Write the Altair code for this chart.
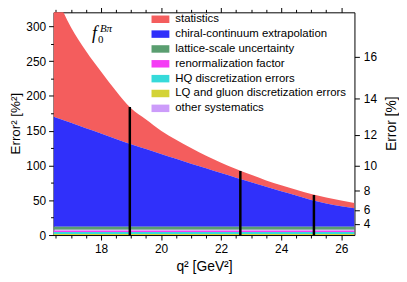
import altair as alt
import pandas as pd

# ---- data ----
q2 = [16.42, 17.0, 17.5, 18.0, 18.5, 19.0, 19.5, 20.0, 20.5, 21.0, 21.5,
      22.0, 22.5, 23.0, 23.5, 24.0, 24.5, 25.0, 25.5, 26.0, 26.44]

stat_vals = [182, 137, 111, 89, 69, 51.5, 42.5, 33.5, 27.5, 22.5, 18,
             15, 12.5, 10.5, 9, 8.5, 8, 8.5, 8.5, 8, 7.5]
chiral_vals = [158, 149.5, 141.5, 134, 126, 118.5, 111.5, 104.5, 97.5, 90.5, 84,
               77, 70.5, 64, 57.5, 51, 45, 38.5, 33.5, 29.5, 26.5]
lattice_vals = [4.5, 4.5, 4.5, 4.5, 4.5, 4.5, 4.5, 4.5, 4.5, 4.5, 4.5,
                4.5, 4.5, 4.5, 4.5, 4.5, 4.5, 4.5, 4.5, 4.5, 4.5]
renorm_vals = [2.0, 2.0, 2.0, 2.0, 2.0, 2.0, 2.0, 2.0, 2.0, 2.0, 2.0,
               2.0, 2.0, 2.0, 2.0, 2.0, 2.0, 2.0, 2.0, 2.0, 2.0]
hq_vals = [3.0, 3.0, 3.0, 3.0, 3.0, 3.0, 3.0, 3.0, 3.0, 3.0, 3.0,
           3.0, 3.0, 3.0, 3.0, 3.0, 3.0, 3.0, 3.0, 3.0, 3.0]
lq_vals = [1.5, 1.5, 1.5, 1.5, 1.5, 1.5, 1.5, 1.5, 1.5, 1.5, 1.5,
           1.5, 1.5, 1.5, 1.5, 1.5, 1.5, 1.5, 1.5, 1.5, 1.5]
other_vals = [1.0, 1.0, 1.0, 1.0, 1.0, 1.0, 1.0, 1.0, 1.0, 1.0, 1.0,
              1.0, 1.0, 1.0, 1.0, 1.0, 1.0, 1.0, 1.0, 1.0, 1.0]

names = ["statistics", "chiral-continuum extrapolation", "lattice-scale uncertainty",
         "renormalization factor", "HQ discretization errors",
         "LQ and gluon discretization errors", "other systematics"]
colors = ["#F45D5D", "#3030FA", "#5A9E70", "#F53CF5", "#36DADA", "#D3D336", "#CC9CFA"]
stack_order = [6, 5, 4, 2, 1, 0, 3]  # bottom = 0

line_q2 = [18.96, 22.64, 25.09]
line_top = [184, 92, 57.5]

x_ticks = [16.5, 17, 17.5, 18, 18.5, 19, 19.5, 20, 20.5, 21, 21.5, 22, 22.5,
           23, 23.5, 24, 24.5, 25, 25.5, 26]
y_ticks = [0, 25, 50, 75, 100, 125, 150, 175, 200, 225, 250, 275, 300]
err_ticks = [16, 36, 64, 100, 144, 196, 256]

# ---- build tables ----
series = [stat_vals, chiral_vals, lattice_vals, renorm_vals, hq_vals, lq_vals, other_vals]
rows = []
for name, vals, o in zip(names, series, stack_order):
    for q, v in zip(q2, vals):
        rows.append({"q2": q, "comp": name, "val": v, "ord": o})
df = pd.DataFrame(rows)
df_lines = pd.DataFrame({"lq": line_q2, "y0": [0] * len(line_q2), "ltop": line_top})
df_ann = pd.DataFrame({"ax": [17.7], "ay": [281]})

FONT = "Liberation Sans"
xs = alt.Scale(domain=[16.42, 26.44], nice=False, zero=False)
ys = alt.Scale(domain=[0, 320], nice=False, zero=True)

major_x = {"condition": {"test": "datum.value % 2 === 0", "value": 5}, "value": 3}
major_y = {"condition": {"test": "datum.value % 50 === 0", "value": 5}, "value": 3}

axis_common = dict(domainColor="black", tickColor="black", domainWidth=1, tickWidth=1,
                   grid=False, labelFont=FONT, labelFontSize=12, labelColor="black",
                   titleFont=FONT, titleFontWeight="normal",
                   titleColor="black", labelOverlap=False)

x_bottom = alt.Axis(orient="bottom", values=x_ticks, tickSize=major_x,
                    labelExpr="datum.value % 2 === 0 ? format(datum.value, 'd') : ''",
                    title="q²  [GeV²]", titleFontSize=14, labelPadding=4, titlePadding=5,
                    **axis_common)
x_top = alt.Axis(orient="top", values=x_ticks, tickSize=major_x, labels=False,
                 title=None, **axis_common)
y_left = alt.Axis(orient="left", values=y_ticks, tickSize=major_y,
                  labelExpr="datum.value % 50 === 0 ? datum.label : ''",
                  title="Error² [%²]", titleFontSize=13.5, labelPadding=3,
                  titleX=-31, titleY=112,
                  titleAngle=270, titleBaseline="bottom", titleAlign="center",
                  **axis_common)
y_right = alt.Axis(orient="right", values=err_ticks, tickSize=5,
                   labelExpr="format(sqrt(datum.value), 'd')",
                   title="Error [%]", titleFontSize=14, titleAngle=270,
                   titleBaseline="middle", titleAlign="center", titleX=37, titleY=112,
                   labelPadding=4, **axis_common)

areas = alt.Chart(df).mark_area(clip=True, interpolate="monotone").encode(
    x=alt.X("q2:Q", scale=xs, axis=x_bottom),
    y=alt.Y("val:Q", stack="zero", scale=ys, axis=y_left),
    color=alt.Color("comp:N", scale=alt.Scale(domain=names, range=colors),
                    legend=alt.Legend(orient="none", legendX=102, legendY=1, title=None,
                                      symbolType="M-1.6,-0.67L1.6,-0.67L1.6,0.67L-1.6,0.67Z",
                                      symbolSize=127, symbolStrokeWidth=0, symbolOpacity=1,
                                      labelFont=FONT, labelFontSize=11.5, labelColor="black",
                                      labelOffset=9, rowPadding=3, padding=0, labelLimit=300)),
    order=alt.Order("ord:Q", sort="ascending"),
)

rules = alt.Chart(df_lines).mark_rule(color="black", strokeWidth=2.5).encode(
    x=alt.X("lq:Q", scale=xs, axis=x_top),
    y=alt.Y("y0:Q", scale=ys, axis=y_right),
    y2="ltop:Q",
)

ann_f = alt.Chart(df_ann).mark_text(text="f", font="Liberation Serif", fontStyle="italic",
                                    fontSize=18, align="left", baseline="alphabetic").encode(
    x=alt.X("ax:Q", scale=xs, axis=None), y=alt.Y("ay:Q", scale=ys, axis=None))
ann_0 = alt.Chart(df_ann).mark_text(text="0", font="Liberation Serif", fontSize=11,
                                    align="left", baseline="alphabetic", dx=6, dy=4).encode(
    x=alt.X("ax:Q", scale=xs, axis=None), y=alt.Y("ay:Q", scale=ys, axis=None))
ann_b = alt.Chart(df_ann).mark_text(text="Bπ", font="Liberation Serif", fontStyle="italic",
                                    fontSize=11, align="left", baseline="alphabetic",
                                    dx=8, dy=-8).encode(
    x=alt.X("ax:Q", scale=xs, axis=None), y=alt.Y("ay:Q", scale=ys, axis=None))

chart = alt.layer(areas, rules, ann_f, ann_0, ann_b).resolve_scale(
    x="independent", y="independent"
).resolve_axis(
    x="independent", y="independent"
).properties(
    width=304, height=225,
    autosize=alt.AutoSizeParams(type="none"),
    padding={"left": 46, "top": 3, "right": 45, "bottom": 40},
).configure_view(stroke=None)

chart.save("out.html", embed_options={"renderer": "svg", "actions": False})
